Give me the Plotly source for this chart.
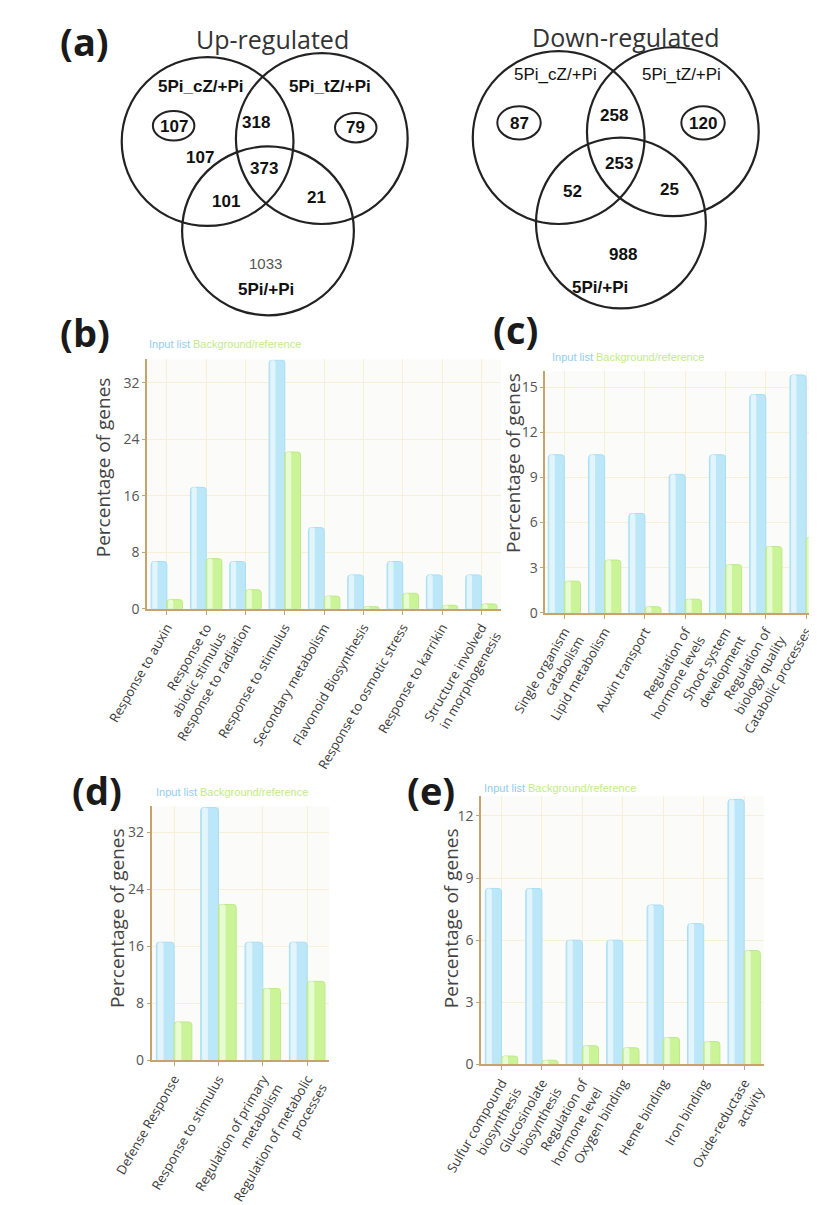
import plotly.graph_objects as go

W, H = 817, 1205

# ---------------- data ----------------
up_counts = {"cz_only": 107, "cz_only_circled": 107, "tz_only": 79, "cz_tz": 318,
             "all": 373, "cz_pi": 101, "tz_pi": 21, "pi_only": 1033}
down_counts = {"cz_only": 87, "tz_only": 120, "cz_tz": 258, "all": 253,
               "cz_pi": 52, "tz_pi": 25, "pi_only": 988}

b_cats = ["Response to auxin", "Response to<br>abiotic stimulus", "Response to radiation",
          "Response to stimulus", "Secondary metabolism", "Flavonoid Biosynthesis",
          "Response to osmotic stress", "Response to karrikin",
          "Structure involved<br>in morphogenesis"]
b_input = [6.7, 17.2, 6.7, 35.2, 11.5, 4.8, 6.7, 4.8, 4.8]
b_ref = [1.3, 7.1, 2.7, 22.2, 1.8, 0.3, 2.2, 0.5, 0.7]

c_cats = ["Single organism<br>catabolism", "Lipid metabolism", "Auxin transport",
          "Regulation of<br>hormone levels", "Shoot system<br>development",
          "Regulation of<br>biology quality", "Catabolic processes"]
c_input = [10.5, 10.5, 6.6, 9.2, 10.5, 14.5, 15.8]
c_ref = [2.1, 3.5, 0.4, 0.9, 3.2, 4.4, 5.0]

d_cats = ["Defense Response", "Response to stimulus",
          "Regulation of primary<br>metabolism", "Regulation of metabolic<br>processes"]
d_input = [16.6, 35.5, 16.6, 16.6]
d_ref = [5.4, 21.9, 10.1, 11.1]

e_cats = ["Sulfur compound<br>biosynthesis", "Glucosinolate<br>biosynthesis",
          "Regulation of<br>hormone level", "Oxygen binding", "Heme binding",
          "Iron binding", "Oxide-reductase<br>activity"]
e_input = [8.5, 8.5, 6.0, 6.0, 7.7, 6.8, 12.8]
e_ref = [0.4, 0.2, 0.9, 0.8, 1.3, 1.1, 5.5]

# ---------------- helpers ----------------
def px(x):
    return x / W

def py(y):
    return 1 - y / H

BLUE = "#bce7f9"
BLUE_LIGHT = "#e2f5fd"
BLUE_LINE = "#a9ddf4"
GREEN = "#cbf398"
GREEN_LIGHT = "#e8fbd2"
GREEN_LINE = "#bde988"
AXIS = "#c8a46c"
GRID = "#f6f0d6"

fig = go.Figure()

panels = [
    ("x", "y", b_cats, b_input, b_ref),
    ("x2", "y2", c_cats, c_input, c_ref),
    ("x3", "y3", d_cats, d_input, d_ref),
    ("x4", "y4", e_cats, e_input, e_ref),
]
BW = 0.4  # bar width in category units (bargap 0.2)
for xa, ya, cats, vin, vref in panels:
    for vals, off, col, light, line, name in [
            (vin, -BW, BLUE, BLUE_LIGHT, BLUE_LINE, "Input list"),
            (vref, 0.0, GREEN, GREEN_LIGHT, GREEN_LINE, "Background/reference")]:
        fig.add_trace(go.Bar(x=cats, y=vals, xaxis=xa, yaxis=ya, name=name,
                             offset=off, width=BW,
                             marker=dict(color=col, line=dict(color=line, width=1),
                                         cornerradius=3),
                             showlegend=False, hoverinfo="skip"))
        # lighter left sheen to mimic the glossy gradient of the original bars
        fig.add_trace(go.Bar(x=cats, y=vals, xaxis=xa, yaxis=ya, name=name,
                             offset=off + 0.03, width=BW * 0.33,
                             marker=dict(color=light, line=dict(width=0),
                                         cornerradius=2),
                             showlegend=False, hoverinfo="skip"))

tickfont = dict(family="Open Sans", size=14, color="#555")
xtickfont = dict(family="Open Sans", size=13, color="#3a3a3a")

def xaxis(dom, rng):
    return dict(domain=dom, range=rng, showline=True, linecolor=AXIS, linewidth=2,
                showgrid=True, gridcolor=GRID, gridwidth=1, ticks="outside",
                ticklen=4, tickcolor=AXIS, tickangle=-60, tickfont=xtickfont,
                zeroline=False, fixedrange=True)

def yaxis(dom, rng, dtick):
    return dict(domain=dom, range=rng, dtick=dtick, showline=True, linecolor=AXIS,
                linewidth=2, showgrid=True, gridcolor=GRID, gridwidth=1,
                ticks="outside", ticklen=3, tickcolor=AXIS, tickfont=tickfont,
                zeroline=False, fixedrange=True)

fig.update_layout(
    width=W, height=H, margin=dict(l=0, r=0, t=0, b=0),
    paper_bgcolor="white", plot_bgcolor="#fbfcf9",
    barmode="overlay",
    xaxis=xaxis([px(103), px(478)], [-0.5, 8.5]),
    yaxis=yaxis([py(612), py(358)], [0, 35.3], 8),
    xaxis2=xaxis([px(525), 1.0], [-0.47, 6.37]),
    yaxis2=yaxis([py(616), py(370)], [0, 16.05], 3),
    xaxis3=xaxis([px(108), px(296)], [-0.5, 3.5]),
    yaxis3=yaxis([py(1072), py(813)], [0, 35.7], 8),
    xaxis4=xaxis([px(457), px(757)], [-0.5, 6.5]),
    yaxis4=yaxis([py(1076), py(803)], [0, 12.95], 3),
)
fig.update_layout(xaxis2_anchor="y2", yaxis2_anchor="x2",
                  xaxis3_anchor="y3", yaxis3_anchor="x3",
                  xaxis4_anchor="y4", yaxis4_anchor="x4")

ann = []
shapes = []

def text(x, y, t, size, color="#111", bold=False, family="Liberation Sans, Arial",
         angle=0, xanchor="center"):
    if bold:
        t = "<b>" + t + "</b>"
    ann.append(dict(x=px(x), y=py(y), xref="paper", yref="paper", text=t,
                    showarrow=False, xanchor=xanchor, yanchor="middle",
                    textangle=angle, font=dict(size=size, color=color, family=family)))

def ellipse(cx, cy, rx, ry, width=2.2):
    shapes.append(dict(type="circle", xref="paper", yref="paper",
                       x0=px(cx - rx), x1=px(cx + rx), y0=py(cy + ry), y1=py(cy - ry),
                       line=dict(color="#222", width=width)))

# panel labels
for lbl, x, y in [("(a)", 37, 34), ("(b)", 37, 330), ("(c)", 493, 327),
                  ("(d)", 50, 797), ("(e)", 404, 797)]:
    text(x, y, lbl, 38, color="#1a1a1a", bold=True, family="Open Sans")

# ---------- Venn: Up-regulated ----------
text(236, 32, "Up-regulated", 25, color="#333", family="Open Sans")
ellipse(167, 136, 91, 86)
ellipse(288, 133, 91, 87)
ellipse(231, 227, 91, 86)
ellipse(131, 120, 22, 15, width=2)
ellipse(324, 122, 22, 15, width=2)
text(160, 80, "5Pi_cZ/+Pi", 17, bold=True)
text(297, 80, "5Pi_tZ/+Pi", 17, bold=True)
text(131, 121, str(up_counts["cz_only_circled"]), 17, bold=True)
text(324, 122, str(up_counts["tz_only"]), 17, bold=True)
text(218, 117, str(up_counts["cz_tz"]), 17, bold=True)
text(159, 152, str(up_counts["cz_only"]), 17, bold=True)
text(227, 163, str(up_counts["all"]), 17, bold=True)
text(187, 197, str(up_counts["cz_pi"]), 17, bold=True)
text(282, 193, str(up_counts["tz_pi"]), 17, bold=True)
text(228, 260, str(up_counts["pi_only"]), 15, color="#555")
text(229, 287, "5Pi/+Pi", 17, bold=True)

# ---------- Venn: Down-regulated ----------
text(610, 30, "Down-regulated", 25, color="#333", family="Open Sans")
ellipse(539, 132, 91, 88)
ellipse(660, 126, 91, 86)
ellipse(605, 219, 90, 87)
ellipse(497, 117, 23, 17, width=2)
ellipse(692, 117, 23, 17, width=2)
text(536, 68, "5Pi_cZ/+Pi", 17)
text(669, 68, "5Pi_tZ/+Pi", 17)
text(497, 118, str(down_counts["cz_only"]), 17, bold=True)
text(692, 118, str(down_counts["tz_only"]), 17, bold=True)
text(598, 110, str(down_counts["cz_tz"]), 17, bold=True)
text(603, 158, str(down_counts["all"]), 17, bold=True)
text(554, 187, str(down_counts["cz_pi"]), 17, bold=True)
text(656, 185, str(down_counts["tz_pi"]), 17, bold=True)
text(607, 251, str(down_counts["pi_only"]), 17, bold=True)
text(583, 285, "5Pi/+Pi", 17, bold=True)

# legends (as coloured text, like the original)
leg = ('<span style="color:#92cdf0">Input list</span> '
       '<span style="color:#c2ec84">Background/reference</span>')
for x, y in [(103, 342), (530, 355), (110, 799), (458, 794)]:
    text(x, y, leg, 11, family="Liberation Sans Narrow, Arial Narrow, Liberation Sans",
         xanchor="left")

# y-axis titles
for x, y in [(57, 468), (490, 463), (71, 927), (425, 927)]:
    text(x, y, "Percentage of genes", 19, color="#444", family="Open Sans", angle=-90)

fig.update_layout(annotations=ann, shapes=shapes)
fig.write_html("out.html")
